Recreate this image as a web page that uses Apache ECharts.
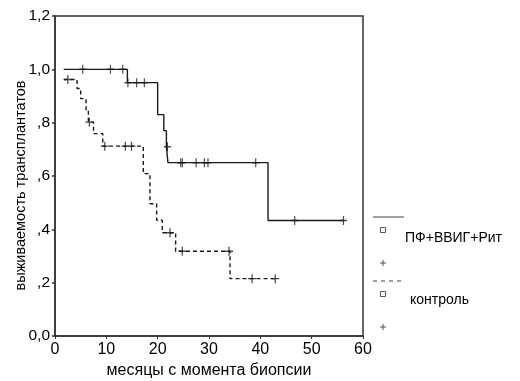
<!DOCTYPE html>
<html>
<head>
<meta charset="utf-8">
<script src="https://cdn.jsdelivr.net/npm/echarts@6/dist/echarts.min.js"></script>
<style>html,body{margin:0;padding:0;background:#fff;}#c{width:520px;height:381px;}</style>
</head>
<body>
<div id="c"></div>
<script>
// Kaplan–Meier curves
const treatName = 'ПФ+ВВИГ+Рит';
const treatTime = [1.7, 14.1, 20.0, 21.2, 21.7, 22.0, 41.5, 56.2];
const treatSurv = [1.0, 0.95, 0.83, 0.77, 0.71, 0.65, 0.433, 0.433];
const treatCensT = [5.4, 10.8, 13.2, 14.2, 15.9, 17.4, 21.9, 24.5, 24.8, 27.5, 29.1, 29.8, 39.1, 46.7, 56.2];
const treatCensS = [1.0, 1.0, 1.0, 0.95, 0.95, 0.95, 0.71, 0.65, 0.65, 0.65, 0.65, 0.65, 0.65, 0.433, 0.433];

const ctrlName = 'контроль';
const ctrlTime = [1.7, 4.3, 5.0, 6.05, 6.5, 7.5, 9.3, 17.2, 18.5, 19.8, 20.9, 23.5, 34.1, 42.9];
const ctrlSurv = [0.962, 0.928, 0.89, 0.846, 0.802, 0.759, 0.712, 0.609, 0.496, 0.434, 0.387, 0.318, 0.215, 0.215];
const ctrlCensT = [2.5, 6.7, 9.7, 13.7, 14.9, 22.4, 24.8, 33.9, 38.4, 42.9];
const ctrlCensS = [0.962, 0.802, 0.712, 0.712, 0.712, 0.387, 0.318, 0.318, 0.215, 0.215];

const yTickLabels = {0: '0,0', 0.2: ',2', 0.4: ',4', 0.6: ',6', 0.8: ',8', 1: '1,0', 1.2: '1,2'};
const xTitle = 'месяцы с момента биопсии';
const yTitle = 'выживаемость трансплантатов';

const pair = (a, b) => a.map((v, i) => [v, b[i]]);
const ink = '#1a1a1a';
const txt = '#000';
const plus = 'path://M5,0L5,10M0,5L10,5';

const chart = echarts.init(document.getElementById('c'), null, {renderer: 'canvas'});
chart.setOption({
  animation: false,
  backgroundColor: '#fff',
  grid: {left: 55, right: 157, top: 16, bottom: 45, containLabel: false, outerBoundsMode: 'none',
    show: true, borderColor: '#333', borderWidth: 1.5, backgroundColor: 'transparent'},
  xAxis: {
    type: 'value', min: 0, max: 60, interval: 10,
    name: xTitle, nameLocation: 'middle', nameGap: 23,
    nameTextStyle: {fontFamily: 'Liberation Sans, Arial', fontSize: 16, color: txt},
    axisLine: {lineStyle: {color: '#333', width: 1.5}},
    axisTick: {show: true, length: 3, lineStyle: {color: '#333'}},
    axisLabel: {margin: 6, fontFamily: 'Liberation Sans, Arial', fontSize: 16, color: txt},
    splitLine: {show: false}
  },
  yAxis: {
    type: 'value', min: 0, max: 1.2, interval: 0.2,
    name: yTitle, nameLocation: 'middle', nameGap: 27, nameMoveOverlap: false,
    nameTextStyle: {fontFamily: 'Liberation Sans, Arial', fontSize: 14.5, color: txt, padding: [0, 19, 0, 0]},
    axisLine: {lineStyle: {color: '#333', width: 1.5}},
    axisTick: {show: true, length: 3, lineStyle: {color: '#333', width: 1.5}},
    axisLabel: {margin: 5, fontFamily: 'Liberation Sans, Arial', fontSize: 15.5, color: txt,
      formatter: v => yTickLabels[Math.round(v * 10) / 10] ?? ''},
    splitLine: {show: false}
  },
  series: [
    {name: treatName, type: 'line', step: 'end', symbol: 'none', data: pair(treatTime, treatSurv),
      lineStyle: {color: ink, width: 1.4}},
    {name: ctrlName, type: 'line', step: 'end', symbol: 'none', data: pair(ctrlTime, ctrlSurv),
      lineStyle: {color: ink, width: 1.4, type: [4, 3]}},
    {name: treatName + ' цензур.', type: 'scatter', symbol: plus, symbolSize: [7, 9], data: pair(treatCensT, treatCensS),
      itemStyle: {color: 'transparent', borderColor: ink, borderWidth: 1.3}},
    {name: ctrlName + ' цензур.', type: 'scatter', symbol: plus, symbolSize: [8, 9], data: pair(ctrlCensT, ctrlCensS),
      itemStyle: {color: 'transparent', borderColor: ink, borderWidth: 1.3}}
  ],
  graphic: [
    {type: 'line', shape: {x1: 373, y1: 217, x2: 404, y2: 217}, style: {stroke: '#444', lineWidth: 1}},
    {type: 'rect', shape: {x: 380.5, y: 227.5, width: 5, height: 5}, style: {fill: 'none', stroke: '#555', lineWidth: 1}},
    {type: 'text', x: 405, y: 238, style: {text: treatName, font: '14px "Liberation Sans", Arial', fill: txt, verticalAlign: 'middle'}},
    {type: 'polyline', shape: {points: [[380, 263], [386, 263]]}, style: {stroke: '#555', lineWidth: 1}},
    {type: 'polyline', shape: {points: [[383, 260], [383, 266]]}, style: {stroke: '#555', lineWidth: 1}},
    {type: 'line', shape: {x1: 373, y1: 281, x2: 404, y2: 281}, style: {stroke: '#444', lineWidth: 1, lineDash: [4, 4]}},
    {type: 'rect', shape: {x: 380.5, y: 291.5, width: 5, height: 5}, style: {fill: 'none', stroke: '#555', lineWidth: 1}},
    {type: 'text', x: 410, y: 300, style: {text: ctrlName, font: '14px "Liberation Sans", Arial', fill: txt, verticalAlign: 'middle'}},
    {type: 'polyline', shape: {points: [[380, 327], [386, 327]]}, style: {stroke: '#555', lineWidth: 1}},
    {type: 'polyline', shape: {points: [[383, 324], [383, 330]]}, style: {stroke: '#555', lineWidth: 1}}
  ]
});
</script>
</body>
</html>
